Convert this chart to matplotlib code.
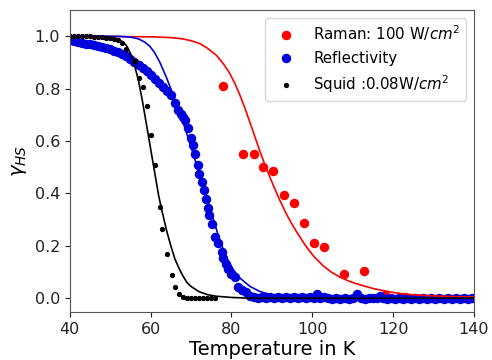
import matplotlib
matplotlib.use('Agg')
from matplotlib import pyplot as plt

# Raman: points and fit
raman_T = [77.8, 82.9, 85.5, 87.9, 90.4, 93.0, 95.4, 98.0, 100.5, 103.0, 107.8, 112.8, 118.0, 122.9]
raman_y = [0.81, 0.552, 0.552, 0.501, 0.486, 0.393, 0.364, 0.289, 0.211, 0.196, 0.093, 0.105, 0.014, 0.005]
raman_fit_T = [40, 60, 65, 68, 70, 72.2, 74, 76.3, 78, 79.6, 81, 82.1, 83.4, 84.6, 86, 87, 88.2, 89.5,
               90.8, 92, 93.6, 94.5, 96.1, 98.6, 100.5, 102.7, 104.8, 106.8, 109.3, 111, 115.1, 119.2,
               123.3, 127.5, 131.6, 135.8, 140]
raman_fit_y = [1.0, 0.998, 0.995, 0.99, 0.983, 0.972, 0.955, 0.927, 0.895, 0.858, 0.815, 0.775, 0.723,
               0.67, 0.608, 0.563, 0.513, 0.463, 0.415, 0.373, 0.322, 0.296, 0.254, 0.195, 0.158, 0.124,
               0.099, 0.081, 0.064, 0.055, 0.037, 0.024, 0.015, 0.011, 0.008, 0.006, 0.005]

# Reflectivity: points and fit
refl_T = [40, 41, 42, 43, 44, 45, 46, 47, 48, 49, 50, 51, 52, 53, 54, 55, 56, 57, 58, 59, 60, 61, 62,
          63, 64, 65, 66, 66.8, 67.5, 68, 68.5, 69.3, 70.1, 70.4, 70.9, 71.6, 72, 72.6, 73.2, 73.7, 74.1,
          74.5, 75.1, 75.9, 76.7, 77.6, 78, 78.6, 79.2, 80, 80.8, 81.7, 82.5, 83.7, 84.6,
          85.5, 86.5, 87.5, 88.5, 89.5, 90.5, 91.5, 92.5, 93.5, 94.5, 95.5, 96.5, 97.5, 98.5, 99.5,
          100.5, 101.1, 102, 103, 104, 105, 106, 107, 108, 109, 110, 111, 112, 113, 114, 115, 116,
          116.7, 117.5, 118.5, 119.5, 120.5, 121.5, 122.5, 123.5, 124.5, 125.5, 126.5, 127.5, 128.5,
          129.5, 130.5, 131.5, 132.5, 133.5, 134.5, 135.5, 136.5, 137.5, 138.5, 139.5]
refl_y = [0.985, 0.982, 0.978, 0.975, 0.972, 0.969, 0.966, 0.962, 0.958, 0.954, 0.95, 0.945, 0.94,
          0.932, 0.925, 0.915, 0.902, 0.89, 0.878, 0.866, 0.852, 0.835, 0.82, 0.806, 0.79, 0.775, 0.745,
          0.718, 0.705, 0.69, 0.68, 0.648, 0.61, 0.584, 0.552, 0.51, 0.476, 0.444, 0.412, 0.38, 0.346,
          0.317, 0.282, 0.234, 0.209, 0.177, 0.152, 0.13, 0.113, 0.094, 0.081, 0.043, 0.033, 0.024, 0.008,
          0.003, 0.002, 0.003, 0.002, 0.003, 0.002, 0.003, 0.002, 0.003, 0.002, 0.003, 0.002, 0.003, 0.002, 0.003,
          0.0, 0.018, 0.0, 0.004, 0.0, -0.002, 0.0, -0.002, 0.0, -0.002, 0.0, 0.016, 0.0, -0.002, 0.0, 0.0, 0.002,
          0.01, 0.0, -0.002, 0.0, -0.002, 0.0, -0.002, 0.0, -0.002, 0.0, -0.002, 0.0, -0.002,
          0.0, -0.002, 0.0, -0.002, 0.0, -0.002, 0.0, -0.002, 0.0, -0.002, 0.0]
refl_fit_T = [40, 52, 55, 57, 58.5, 59.8, 61, 62.3, 63.9, 65.6, 67.2, 68.5, 70.5, 73, 74.7, 76.3, 77.5,
              78.8, 80.5, 82.1, 84.6, 87, 90.3, 95, 100, 140]
refl_fit_y = [1.0, 1.0, 0.997, 0.99, 0.978, 0.962, 0.937, 0.9, 0.843, 0.775, 0.705, 0.65, 0.552, 0.43,
              0.345, 0.262, 0.205, 0.155, 0.108, 0.077, 0.045, 0.026, 0.011, 0.003, 0.0, 0.0]

# Squid: points and fit
squid_T = [40, 41, 42, 43, 44, 45, 46, 47, 48, 49, 50, 51, 52, 53, 54, 56.1, 57.2, 58, 59.1, 60, 61.1,
           62.3, 62.9, 64.1, 65.2, 66, 67.1, 68, 69, 70, 71, 72, 73, 74, 75, 76]
squid_y = [1.0, 1.0, 1.0, 1.0, 1.0, 1.0, 0.998, 0.998, 0.996, 0.995, 0.993, 0.99, 0.985, 0.975, 0.95,
           0.905, 0.84, 0.805, 0.733, 0.625, 0.509, 0.349, 0.266, 0.167, 0.09, 0.041, 0.018, 0.005,
           0.0, 0.0, 0.0, 0.0, 0.0, 0.0, 0.0, 0.0]
squid_fit_T = [40, 48, 51, 53, 54, 55, 56, 57, 58, 59, 60, 61, 62, 63, 64, 65, 66, 67, 68, 69, 70, 72,
               74, 76, 80, 85, 140]
squid_fit_y = [1.0, 1.0, 0.995, 0.98, 0.965, 0.935, 0.89, 0.83, 0.75, 0.66, 0.57, 0.48, 0.39, 0.32,
               0.255, 0.2, 0.15, 0.115, 0.085, 0.06, 0.045, 0.025, 0.014, 0.008, 0.003, 0.0, 0.0]

red = '#ff0000'
blue = '#0000dd'

fig = plt.figure(figsize=(4.92, 3.6), dpi=100)
ax = fig.add_axes([0.142, 0.133, 0.821, 0.839])

ax.plot(raman_T, raman_y, 'o', color=red, ms=5.8, label='Raman: 100 W/$cm^2$')
ax.plot(refl_T, refl_y, 'o', color=blue, ms=5.8, label='Reflectivity')
ax.plot(squid_T, squid_y, 'o', color='k', ms=2.8, label='Squid :0.08W/$cm^2$')
ax.plot(raman_fit_T, raman_fit_y, '-', color=red, lw=1.2)
ax.plot(refl_fit_T, refl_fit_y, '-', color=blue, lw=1.2)
ax.plot(squid_fit_T, squid_fit_y, '-', color='k', lw=1.2)

ax.set_xlim(40, 140)
ax.set_ylim(-0.053, 1.1)
ax.set_xticks([40, 60, 80, 100, 120, 140])
ax.set_yticks([0.0, 0.2, 0.4, 0.6, 0.8, 1.0])
ax.tick_params(labelsize=11.5, colors='#222222')
ax.set_xlabel('Temperature in K', fontsize=14, labelpad=2)
ax.set_ylabel('$\\gamma_{HS}$', fontsize=14)
for s in ax.spines.values():
    s.set_color('#555555')
ax.legend(loc='upper right', fontsize=10.8)

fig.savefig('out.png', dpi=100)
